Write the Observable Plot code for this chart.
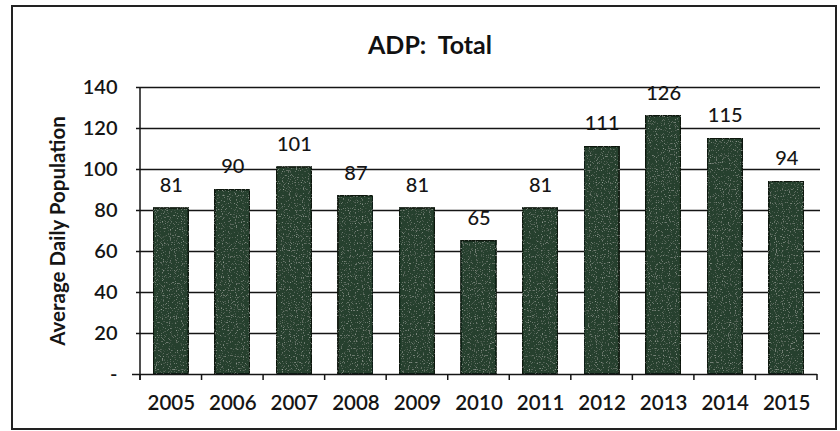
<!DOCTYPE html>
<html>
<head>
<meta charset="utf-8">
<script src="https://cdn.jsdelivr.net/npm/d3@7"></script>
<script src="https://cdn.jsdelivr.net/npm/@observablehq/plot@0.6"></script>
<style>
  html, body { margin: 0; padding: 0; background: #fff; }
  #wrap { position: relative; width: 840px; height: 431px; overflow: hidden; font-family: Lato, "Open Sans", sans-serif; }
  #frame { position: absolute; left: 11px; top: 5px; width: 822px; height: 421px; border: 2px solid #222; box-sizing: content-box; }
  #title { position: absolute; left: 0; width: 860px; top: 29px; text-align: center; font-size: 25px; font-weight: bold; color: #111; line-height: 30px; }
  #chart { position: absolute; left: 0; top: 60px; }
</style>
</head>
<body>
<div id="wrap">
  <div id="frame"></div>
  <div id="title">ADP:&nbsp; Total</div>
  <div id="chart"></div>
</div>
<script>
const years = ["2005","2006","2007","2008","2009","2010","2011","2012","2013","2014","2015"];
const values = [81, 90, 101, 87, 81, 65, 81, 111, 126, 115, 94];
const yTicks = [0, 20, 40, 60, 80, 100, 120, 140];
const yLabel = "Average Daily Population";

const data = years.map((y, i) => ({year: y, value: values[i]}));
const ink = "#151515";

// speckle texture for bars (like the scanned original)
function defs() {
  const svg = d3.create("svg:defs");
  const f = svg.append("filter").attr("id", "speckle").attr("x", 0).attr("y", 0).attr("width", 1).attr("height", 1);
  f.append("feTurbulence").attr("type", "fractalNoise").attr("baseFrequency", 0.85).attr("numOctaves", 1).attr("seed", 3).attr("result", "noise");
  f.append("feColorMatrix").attr("in", "noise").attr("type", "matrix")
    .attr("values", "0 0 0 0 0.55  0 0 0 0 0.62  0 0 0 0 0.55  0 0 0 2.2 -1.3").attr("result", "dots");
  f.append("feComposite").attr("in", "dots").attr("in2", "SourceGraphic").attr("operator", "in").attr("result", "clipped");
  const m = f.append("feMerge");
  m.append("feMergeNode").attr("in", "SourceGraphic");
  m.append("feMergeNode").attr("in", "clipped");
  return svg.node();
}

const bw = s => (typeof s.bandwidth === "function" ? s.bandwidth() : s.bandwidth);
const st = s => (typeof s.step === "function" ? s.step() : bw(s) / (1 - 0.43));

// tick marks at the band boundaries, computed from the library's x scale
function boundaryTicks(index, scales, values, dim) {
  const x = scales.x;
  const b = bw(x), step = st(x);
  const g = d3.create("svg:g").attr("stroke", ink).attr("stroke-width", 1.5);
  const y0 = dim.height - dim.marginBottom;
  const xs = years.map(d => x(d) + b / 2 - step / 2);
  xs.push(x(years[years.length - 1]) + b / 2 + step / 2);
  for (const v of xs) {
    if (!isFinite(v)) continue;
    g.append("line").attr("x1", v).attr("x2", v).attr("y1", y0).attr("y2", y0 + 6);
  }
  return g.node();
}

const chart = Plot.plot({
  width: 840,
  height: 371,
  marginTop: 27,
  marginBottom: 57,
  marginLeft: 140,
  marginRight: 23,
  style: { fontFamily: "Lato, 'Open Sans', sans-serif", fontSize: "20px", color: ink, background: "transparent" },
  x: { type: "band", domain: years, paddingInner: 0.43, paddingOuter: 0.215, round: false, label: null },
  y: { domain: [0, 140], label: null },
  marks: [
    defs,
    Plot.ruleY(yTicks.filter(d => d > 0), { stroke: ink, strokeWidth: 1.3, insetLeft: -4, insetRight: -3 }),
    Plot.barY(data, { x: "year", y: "value", fill: "#25412d", stroke: "#0c170f", strokeWidth: 1.6 }),
    Plot.ruleY([0], { stroke: ink, strokeWidth: 1.5, insetLeft: -8 }),
    Plot.axisY({ ticks: yTicks, tickFormat: d => d === 0 ? "-" : d, tickSize: 0, tickPadding: 23, label: null, fontSize: 20, fontWeight: 600 }),
    Plot.axisX({ tickSize: 0, tickPadding: 21, label: null, fontSize: 20.5, fontWeight: 600 }),
    Plot.text(data, { x: "year", y: "value", text: d => String(d.value), dy: -23, fontSize: 20, fontWeight: 500, fill: ink }),
    Plot.text([yLabel], { frameAnchor: "left", textAnchor: "middle", rotate: -90, dx: -82, fontSize: 20.5, fontWeight: "bold", fill: ink }),
    boundaryTicks,
    (index, scales, values, dim) => {
      const x0 = dim.marginLeft;
      return d3.create("svg:line").attr("x1", x0).attr("x2", x0)
        .attr("y1", dim.marginTop).attr("y2", dim.height - dim.marginBottom + 6)
        .attr("stroke", ink).attr("stroke-width", 1.5).node();
    }
  ]
});
d3.select(chart).selectAll("g[aria-label='bar'] rect").attr("filter", "url(#speckle)");
document.getElementById("chart").appendChild(chart);
</script>
</body>
</html>
